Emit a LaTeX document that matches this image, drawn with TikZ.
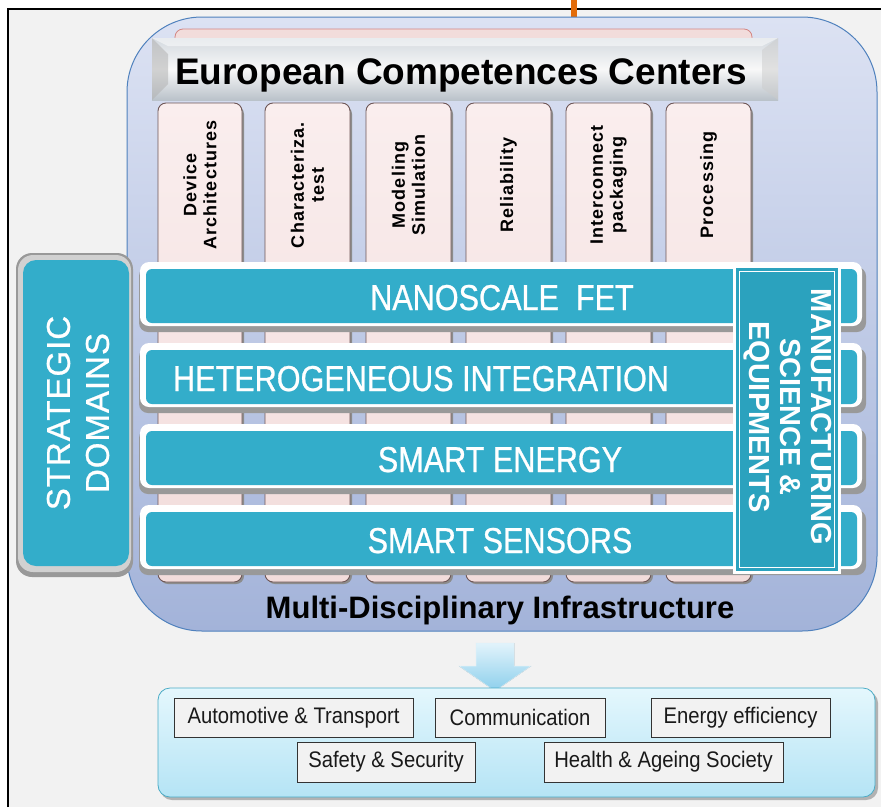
\documentclass[tikz,border=0pt]{standalone}
\usepackage{fontspec}
\setmainfont{Liberation Sans}
\newfontfamily\colfont[LetterSpace=6]{Liberation Sans}
\newfontfamily\barfont[FakeStretch=0.85,FakeBold=0.7]{Liberation Sans}
\newfontfamily\boxfont[FakeStretch=0.9]{Liberation Sans}
\newfontfamily\stratfont[LetterSpace=3,FakeBold=0.7]{Liberation Sans}
\definecolor{bgray}{HTML}{F2F2F2}
\definecolor{contTop}{HTML}{DCE2F3}
\definecolor{contBot}{HTML}{A3B3D9}
\definecolor{contLine}{HTML}{4F81BD}
\definecolor{pinkTop}{HTML}{FAEEEE}
\definecolor{pinkc}{HTML}{F2DCDB}
\definecolor{pinkLine}{HTML}{6E5656}
\definecolor{pinkEdge}{HTML}{C0504D}
\definecolor{tealc}{HTML}{33ADCA}
\definecolor{manuf}{HTML}{2BA2BE}
\definecolor{shadowg}{HTML}{999999}
\definecolor{headTop}{HTML}{D3D9DF}
\definecolor{headMid}{HTML}{F8F8F8}
\definecolor{headBot}{HTML}{BAC2CA}
\definecolor{boxTop}{HTML}{E4F7FD}
\definecolor{boxBot}{HTML}{B5E4F5}
\definecolor{boxLine}{HTML}{4BACC6}
\definecolor{arrTop}{HTML}{E2F3FB}
\definecolor{arrBot}{HTML}{8CCFEC}
\definecolor{orangec}{HTML}{E36C0A}
\tikzset{
  colbox/.style={draw=pinkLine, line width=0.9pt, top color=pinkTop, bottom color=pinkc, rounded corners=8},
  coltext/.style={rotate=90, align=center, text=black, font=\colfont\bfseries\fontsize{18}{20}\selectfont},
  bartext/.style={text=white, font=\barfont\fontsize{36}{40}\selectfont},
  sidetext/.style={text=white, align=center},
  ibox/.style={draw=black!80, line width=0.7pt, fill=bgray, inner sep=0pt, text=black!90, font=\boxfont\fontsize{22.5}{24}\selectfont}
}
\begin{document}
\begin{tikzpicture}[x=1pt,y=-1pt]
\useasboundingbox (0,0) rectangle (881,807);
\fill[white] (0,0) rectangle (881,807);
\fill[bgray] (8,9) rectangle (881,807);
\draw[black, line width=2pt] (8,807) -- (8,9) -- (881,9);
\fill[orangec] (571,0) rectangle (577,20);

% main container
\draw[contLine, line width=1pt, top color=contTop, bottom color=contBot, rounded corners=75] (127,17) rectangle (877,631);

% pink strip behind header
\draw[pinkEdge!70, line width=0.8pt, fill=pinkc, rounded corners=8] (175,29) rectangle (752,70);

% columns
\foreach \xa/\xb/\txt [count=\i] in {158/242/{Device\\Architectures},265/350/{Characteriza.\\test},366/451/{Modeling\\Simulation},466/551/{Reliability},566/651/{Interconnect\\packaging},666/751/{Processing}}{
  \fill[black!45, rounded corners=8] (\xa+2,106) rectangle (\xb+2,584);
  \draw[colbox] (\xa,103) rectangle (\xb,582);
  \node[coltext] (col\i) at ({(\xa+\xb)/2},185) {\txt};
}

% header
\fill[top color=headTop, bottom color=headBot, middle color=headMid] (152,38) rectangle (778,100);
\fill[black!30, opacity=0.55] (152,38) -- (168,54) -- (168,84) -- (152,100) -- cycle;
\fill[white, opacity=0.5] (152,38) -- (778,38) -- (762,46) -- (168,46) -- cycle;
\fill[black!20, opacity=0.5] (778,38) -- (762,50) -- (762,88) -- (778,100) -- cycle;
\node[anchor=base, text=black, font=\bfseries\fontsize{37}{40}\selectfont] (ecc) at (461,84) {European Competences Centers};

% bars
\foreach \T/\txt/\tx [count=\i] in {262/{NANOSCALE\ \ FET}/502, 343/{HETEROGENEOUS INTEGRATION}/421, 424/{SMART ENERGY}/500, 505/{SMART SENSORS}/500}{
  \fill[shadowg, rounded corners=9] (139,\T+5) rectangle (866,\T+70);
  \fill[white, rounded corners=9] (140,\T) rectangle (862,\T+64);
  \fill[tealc, rounded corners=6] (146,\T+7) rectangle (857,\T+61);
  \node[bartext, anchor=base] (bar\i) at (\tx,\T+48) {\txt};
}

% strategic domains
\fill[black!40, rounded corners=16] (16,253) rectangle (133,577);
\fill[black!18, rounded corners=15] (18,255) rectangle (131,572);
\fill[tealc, rounded corners=13] (23,260) rectangle (129,566);
\node[sidetext, rotate=90, font=\stratfont\fontsize{33}{39}\selectfont] (strat) at (78,413) {STRATEGIC\\DOMAINS};

% manufacturing
\fill[white] (733,265) rectangle (841,574);
\fill[manuf] (736,268) rectangle (838,571);
\draw[white, line width=0.8pt] (739.5,271.5) rectangle (834.5,567.5);
\node[sidetext, rotate=-90, font=\bfseries\fontsize{29}{31}\selectfont] (manu) at (788,417) {MANUFACTURING\\SCIENCE \&\\EQUIPMENTS};

% infrastructure label
\node[anchor=base, text=black, font=\bfseries\fontsize{31}{34}\selectfont] (multi) at (500,618) {Multi-Disciplinary Infrastructure};

% arrow
\fill[top color=arrTop, bottom color=arrBot, draw=white!70!arrBot, line width=0.5pt] (476,643) -- (514,643) -- (514,666) -- (531,666) -- (495,691) -- (459,666) -- (476,666) -- cycle;

% application box
\fill[black!30, rounded corners=12] (160,691) rectangle (878,800);
\draw[boxLine, line width=0.8pt, top color=boxTop, bottom color=boxBot, rounded corners=12] (158,688) rectangle (875,797);
\node[ibox, minimum width=239pt, minimum height=39pt] (auto) at (293.5,717.5) {Automotive \& Transport};
\node[ibox, minimum width=170pt, minimum height=39pt] (comm) at (520,717.5) {Communication};
\node[ibox, minimum width=179pt, minimum height=39pt] (ener) at (740.5,717.5) {Energy efficiency};
\node[ibox, minimum width=178pt, minimum height=40pt] (safe) at (386,762) {Safety \& Security};
\node[ibox, minimum width=239pt, minimum height=40pt] (heal) at (663.5,762) {Health \& Ageing Society};
\end{tikzpicture}
\end{document}
